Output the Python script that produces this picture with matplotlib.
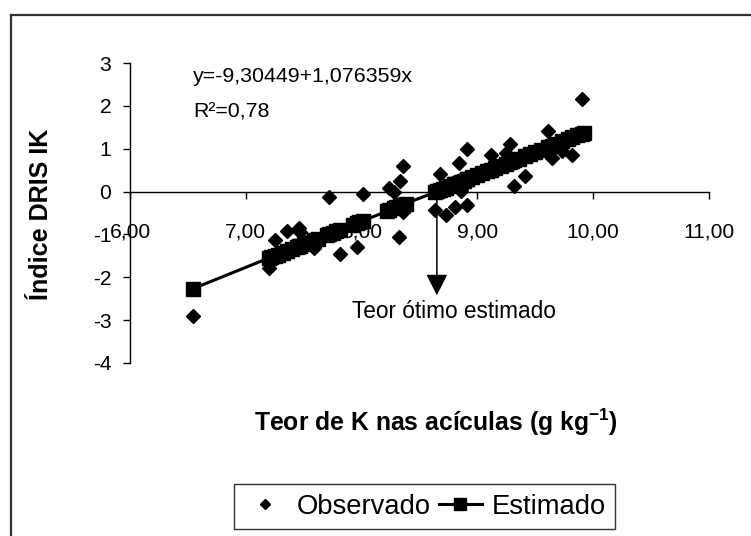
import matplotlib
matplotlib.use("Agg")
import matplotlib.pyplot as plt
from matplotlib import font_manager as fm
from matplotlib.lines import Line2D

names = {f.name for f in fm.fontManager.ttflist}
if "Liberation Sans Narrow" in names:
    FONT = "Liberation Sans Narrow"
    S = 1.0
else:
    FONT = "Liberation Sans"
    S = 0.84

plt.rcParams["font.family"] = [FONT, "DejaVu Sans"]
plt.rcParams["mathtext.fontset"] = "custom"
plt.rcParams["mathtext.rm"] = FONT
plt.rcParams["mathtext.bf"] = FONT + ":bold"
plt.rcParams["mathtext.default"] = "regular"

# ---- data ----
teor_k = [6.54, 7.20, 7.22, 7.25, 7.28, 7.32, 7.36, 7.40, 7.44, 7.46, 7.47, 7.50,
          7.53, 7.59, 7.62, 7.70, 7.72, 7.75, 7.78, 7.81, 7.93, 7.96, 7.98, 8.01,
          8.22, 8.24, 8.28, 8.30, 8.32, 8.33, 8.35, 8.36, 8.36, 8.38, 8.63, 8.65,
          8.68, 8.70, 8.73, 8.76, 8.80, 8.81, 8.84, 8.86, 8.88, 8.91, 8.91, 8.95,
          9.00, 9.04, 9.08, 9.12, 9.15, 9.20, 9.25, 9.28, 9.30, 9.32, 9.36, 9.41,
          9.45, 9.50, 9.55, 9.61, 9.64, 9.68, 9.73, 9.78, 9.82, 9.86, 9.90, 9.92]
observado = [-2.90, -1.79, -1.50, -1.13, -1.45, -1.40, -0.92, -1.30, -1.28, -0.86, -0.95, -1.20,
             -1.18, -1.31, -1.12, -1.00, -0.12, -0.98, -0.93, -1.46, -0.78, -1.30, -0.70, -0.06,
             -0.45, 0.08, -0.02, -0.38, -1.07, 0.25, -0.30, 0.59, -0.47, -0.28, -0.42, 0.02,
             0.42, 0.08, -0.55, 0.12, 0.18, -0.36, 0.67, 0.02, 0.25, -0.32, 1.00, 0.33,
             0.40, 0.42, 0.48, 0.85, 0.52, 0.62, 0.89, 1.10, 0.72, 0.14, 0.78, 0.37,
             0.85, 0.90, 0.98, 1.42, 0.79, 1.10, 0.95, 1.20, 0.85, 1.30, 2.15, 1.37]
estimado = [-2.27, -1.55, -1.53, -1.50, -1.47, -1.43, -1.38, -1.34, -1.30, -1.27, -1.26, -1.23,
            -1.20, -1.13, -1.10, -1.02, -1.00, -0.96, -0.93, -0.90, -0.77, -0.74, -0.72, -0.68,
            -0.46, -0.44, -0.39, -0.37, -0.35, -0.34, -0.32, -0.31, -0.31, -0.28, -0.02, 0.01,
            0.04, 0.06, 0.09, 0.12, 0.17, 0.18, 0.21, 0.23, 0.25, 0.29, 0.29, 0.33,
            0.38, 0.43, 0.47, 0.51, 0.54, 0.60, 0.65, 0.68, 0.71, 0.73, 0.77, 0.82,
            0.87, 0.92, 0.97, 1.04, 1.07, 1.11, 1.17, 1.22, 1.27, 1.31, 1.35, 1.37]
teor_otimo = 8.65
x_ticks = [6, 7, 8, 9, 10, 11]
x_tick_labels = ["6,00", "7,00", "8,00", "9,00", "10,00", "11,00"]
y_ticks = [-4, -3, -2, -1, 0, 1, 2, 3]
equacao = "y=-9,30449+1,076359x"
r2_text = "R²=0,78"

# ---- figure ----
W, H = 751, 536
fig = plt.figure(figsize=(W / 100, H / 100), dpi=100)
fig.patch.set_facecolor("white")

# outer chart frame
fig.add_artist(Line2D([11 / W, 1.0], [1 - 15 / H, 1 - 15 / H], color="#333333", lw=1.6))
fig.add_artist(Line2D([11 / W, 11 / W], [1 - 15 / H, 0.0], color="#333333", lw=1.6))

ax = fig.add_axes([130 / W, 1 - 363 / H, (709 - 130) / W, 300 / H])
ax.set_xlim(6, 11)
ax.set_ylim(-4, 3)
ax.set_facecolor("none")

ax.plot(teor_k, observado, linestyle="none", marker="D", markersize=7,
        color="black", zorder=2)
ax.plot(teor_k, estimado, linestyle="-", lw=2.2, marker="s", markersize=10,
        color="black", zorder=3)

for side in ("top", "right"):
    ax.spines[side].set_visible(False)
ax.spines["bottom"].set_position(("data", 0))
ax.spines["left"].set_linewidth(1.0)
ax.spines["bottom"].set_linewidth(1.0)

ax.set_xticks(x_ticks)
ax.set_xticklabels(x_tick_labels)
ax.set_yticks(y_ticks)
ax.set_yticklabels([str(v) for v in y_ticks])
ax.tick_params(axis="x", direction="out", length=5, width=1, pad=17,
               labelsize=18 * S)
ax.tick_params(axis="y", direction="out", length=5, width=1, pad=8.5,
               labelsize=18 * S)

# arrow to optimum
ax.annotate("", xy=(teor_otimo, -2.42), xytext=(teor_otimo, 0),
            arrowprops=dict(arrowstyle="-|>,head_length=0.65,head_width=0.33",
                            mutation_scale=20, color="black", lw=1.1,
                            shrinkA=0, shrinkB=0), zorder=4)
fig.text(454 / W, 1 - 312 / H, "Teor ótimo estimado", ha="center", va="center",
         fontsize=19.4 * S)

fig.text(193 / W, 1 - 77 / H, equacao, ha="left", va="center", fontsize=18.3 * S)
fig.text(193 / W, 1 - 112 / H, r2_text, ha="left", va="center", fontsize=18.3 * S)

fig.text(436 / W, 1 - 422 / H, "Teor de K nas acículas (g kg$^{-1}$)",
         ha="center", va="center", fontsize=21.2 * S, fontweight="bold")
fig.text(41 / W, 1 - 214 / H, "Índice DRIS IK", ha="center", va="center",
         rotation=90, fontsize=21.5 * S, fontweight="bold")

handles = [Line2D([], [], linestyle="none", marker="D", markersize=5.5, color="black"),
           Line2D([], [], linestyle="-", lw=2.2, marker="s", markersize=9, color="black")]
leg = fig.legend(handles, ["Observado", "Estimado"], loc="center",
                 bbox_to_anchor=(424.5 / W, 1 - 506.5 / H), ncol=2,
                 fontsize=23.5 * S, frameon=True, fancybox=False, edgecolor="black",
                 handlelength=1.6, handletextpad=0.33, columnspacing=0.3,
                 borderpad=0.36, borderaxespad=0)
leg.get_frame().set_linewidth(1.0)

fig.savefig("out.png", dpi=100)
